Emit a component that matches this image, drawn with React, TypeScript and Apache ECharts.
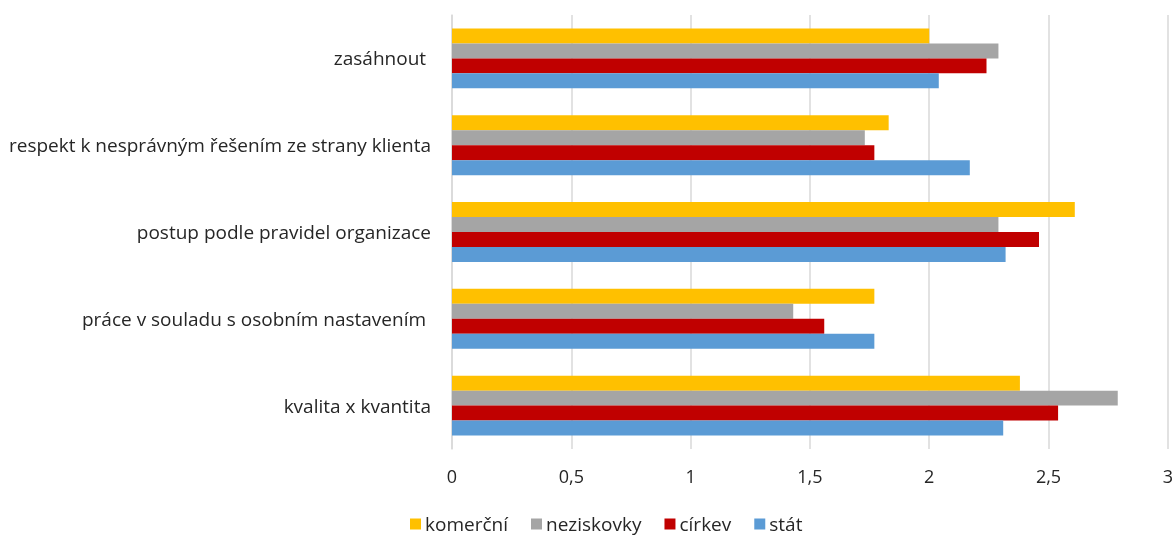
import React, { useEffect, useRef } from "react";
import * as echarts from "echarts";

const categories = [
  "kvalita x kvantita",
  "práce v souladu s osobním nastavením ",
  "postup podle pravidel organizace",
  "respekt k nesprávným řešením ze strany klienta",
  "zasáhnout ",
];

const seriesNames = ["komerční", "neziskovky", "církev", "stát"];
const komercni = [2.38, 1.77, 2.61, 1.83, 2.0];
const neziskovky = [2.79, 1.43, 2.29, 1.73, 2.29];
const cirkev = [2.54, 1.56, 2.46, 1.77, 2.24];
const stat = [2.31, 1.77, 2.32, 2.17, 2.04];
const colors = ["#FFC000", "#A5A5A5", "#C00000", "#5B9BD5"];

const xMin = 0;
const xMax = 3;
const xInterval = 0.5;

const FONT = "Open Sans";
const TEXT = "#262626";

export default function App() {
  const ref = useRef<HTMLDivElement>(null);
  useEffect(() => {
    if (!ref.current) return;
    const chart = echarts.init(ref.current, null, { renderer: "svg" });
    const values = [komercni, neziskovky, cirkev, stat];
    chart.setOption({
      animation: false,
      grid: { left: 452, right: 4, top: 15, bottom: 87, containLabel: false },
      legend: {
        data: seriesNames,
        top: 508,
        left: 405,
        itemWidth: 11,
        itemHeight: 11,
        itemGap: 23,
        icon: "rect",
        textStyle: { fontFamily: FONT, fontSize: 19, color: TEXT, lineHeight: 22, padding: [0, 0, 0, -1] },
      },
      xAxis: {
        type: "value",
        min: xMin,
        max: xMax,
        interval: xInterval,
        axisLine: { show: false },
        axisTick: { show: false },
        splitLine: { lineStyle: { color: "#D9D9D9", width: 1.5 } },
        axisLabel: {
          margin: 18,
          fontFamily: FONT,
          fontSize: 18,
          color: TEXT,
          formatter: (v: number) => String(v).replace(".", ","),
        },
      },
      yAxis: {
        type: "category",
        data: categories,
        axisLine: { lineStyle: { color: "#D9D9D9", width: 1.5 } },
        axisTick: { show: false },
        axisLabel: {
          margin: 21,
          fontFamily: FONT,
          fontSize: 19,
          color: TEXT,
        },
      },
      series: seriesNames.map((name, i) => ({
        name,
        type: "bar",
        data: values[i],
        barGap: "0%",
        barCategoryGap: "31%",
        itemStyle: { color: colors[i] },
      })),
    });
    return () => chart.dispose();
  }, []);
  return (
    <div
      ref={ref}
      style={{ position: "fixed", left: 0, top: 0, width: 1176, height: 536 }}
    />
  );
}
